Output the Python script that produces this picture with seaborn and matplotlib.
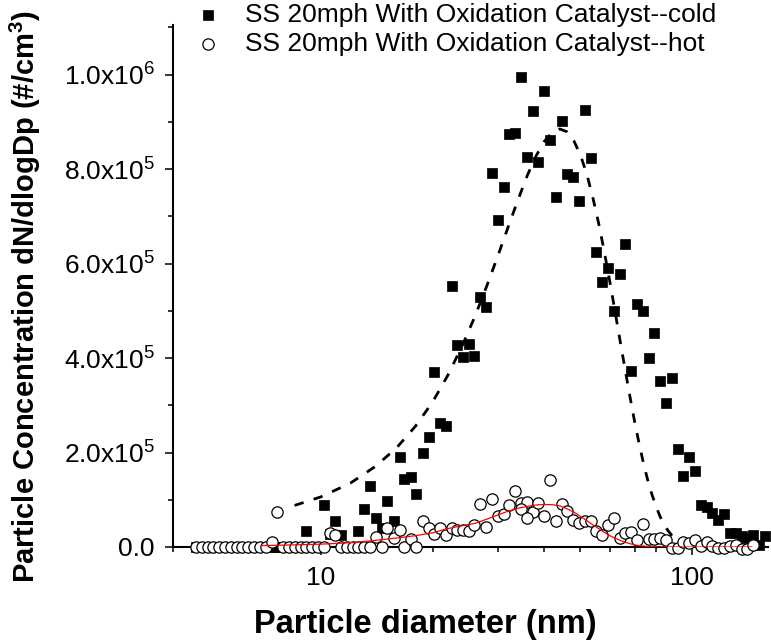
import numpy as np
import pandas as pd
import matplotlib
matplotlib.use("Agg")
import matplotlib.pyplot as plt
import seaborn as sns
from matplotlib.ticker import FixedLocator, NullFormatter, MultipleLocator

sns.set_style("ticks")
plt.rcParams["font.family"] = ["Liberation Sans", "DejaVu Sans"]
plt.rcParams["mathtext.default"] = "regular"
plt.rcParams["text.color"] = "black"
plt.rcParams["axes.labelcolor"] = "black"
plt.rcParams["xtick.color"] = "black"
plt.rcParams["ytick.color"] = "black"

# SMPS channel midpoint diameters (nm)
diameter = [4.61, 4.78, 4.96, 5.14, 5.33, 5.52, 5.73, 5.94, 6.15, 6.38,
            6.61, 6.85, 7.10, 7.37, 7.64, 7.91, 8.20, 8.51, 8.82, 9.14,
            9.47, 9.82, 10.2, 10.6, 10.9, 11.3, 11.8, 12.2, 12.6, 13.1,
            13.6, 14.1, 14.6, 15.1, 15.7, 16.3, 16.8, 17.5, 18.1, 18.8,
            19.5, 20.2, 20.9, 21.7, 22.5, 23.3, 24.1, 25.0, 25.9, 26.9,
            27.9, 28.9, 30.0, 31.1, 32.2, 33.4, 34.6, 35.9, 37.2, 38.5,
            40.0, 41.4, 42.9, 44.5, 46.1, 47.8, 49.6, 51.4, 53.3, 55.2,
            57.3, 59.4, 61.5, 63.8, 66.1, 68.5, 71.0, 73.7, 76.4, 79.1,
            82.0, 85.1, 88.2, 91.4, 94.7, 98.2, 101.8, 105.5, 109.4, 113.4,
            117.6, 121.9, 126.3, 131.0, 135.8, 140.7, 145.9, 151.2, 156.8]

# dN/dlogDp in thousands of particles per cm^3
cold_k = [0, 0, 0, 0, 0, 0, 0, 0, 0, 0,
          0, 0, 0, 0, 0, 0, 0, 0, 0, 34.5,
          0, 0, 88, 28, 56, 25, 0, 0, 34.5, 80,
          129, 62, 40, 97, 56, 190, 144, 149, 112, 200,
          232, 370, 262, 257, 553, 427, 403, 429, 405, 530,
          509, 792, 693, 762, 875, 877, 995, 826, 923, 815,
          966, 861, 740, 901, 789, 783, 733, 925, 824, 624,
          560, 590, 500, 577, 641, 373, 514, 500, 401, 453,
          352, 305, 358, 207, 151, 190, 161, 88, 85, 71,
          57, 70, 29, 29, 23, 18, 25, 4, 24]

hot_k = [0, 0, 0, 0, 0, 0, 0, 0, 0, 0,
         0, 0, 0, 10, 75, 0, 0, 0, 0, 0,
         0, 0, 0, 29, 25, 0, 0, 0, 0, 0,
         0, 22, 0, 39.5, 20, 37, 0, 17, 0, 54,
         40, 27.5, 41, 25, 39.5, 37, 36, 34.5, 47, 90,
         43, 101, 66, 69, 89, 118, 92.5, 96, 75, 94,
         66, 142, 56, 91, 77, 57, 50, 56, 55, 34,
         26, 47, 61, 20, 30, 32, 15, 48, 17.5, 17.5,
         18.5, 15, -3, -3, 10, 8, 15, 2, 11, 2,
         -3, -3, 2, 4, -4, -4, 5]

# repeated hot readings at two channels
hot_rep_d = [34.6, 35.9]
hot_rep_k = [80, 61]

# fitted size distributions
cold_fit_d = [8.5, 10, 12, 14, 16, 18, 20, 22, 24, 26, 28, 30, 32, 34, 36, 38,
              40, 42, 44, 46, 48, 50, 52, 54, 56, 58, 60, 62, 64, 66, 68, 70,
              72, 74, 76, 78, 80, 82, 84, 86, 88, 90, 92]
cold_fit_k = [88, 106, 135, 170, 210, 256, 307, 364, 425, 488, 553, 617, 679, 736, 787, 828,
              859, 878, 885, 879, 860, 830, 790, 740, 685, 625, 562, 498, 435, 375, 318, 265,
              218, 176, 140, 110, 85, 64, 48, 35, 25, 18, 12]

hot_fit_d = [6.9, 8, 10, 12, 14, 16, 18, 20, 22, 24, 26, 28, 30, 32, 34, 36, 38,
             40, 42, 44, 46, 48, 50, 52, 54, 56, 58, 60, 62, 64, 66, 68, 70,
             72, 75, 80, 90, 110, 145]
hot_fit_k = [3, 4, 6, 9, 14, 19, 24, 30, 39, 45, 50, 59, 68, 76, 82, 86, 89,
             90, 89.5, 87, 81, 74, 65, 56, 47, 39, 31, 24, 18.5, 14, 10, 7, 4.5,
             3, 1.5, 0.5, 0, 0, 0]

label_cold = "SS 20mph With Oxidation Catalyst--cold"
label_hot = "SS 20mph With Oxidation Catalyst--hot"

cold_df = pd.DataFrame({"d": diameter[:len(cold_k)], "n": np.array(cold_k) * 1e3})
hot_df = pd.DataFrame({"d": diameter[:len(hot_k)] + hot_rep_d,
                       "n": np.array(hot_k + hot_rep_k) * 1e3})
cold_fit = pd.DataFrame({"d": cold_fit_d, "n": np.array(cold_fit_k) * 1e3})
hot_fit = pd.DataFrame({"d": hot_fit_d, "n": np.array(hot_fit_k) * 1e3})

W, H = 771, 643
fig = plt.figure(figsize=(W / 100, H / 100), dpi=100)
ax = fig.add_axes([173 / W, 96 / H, 595 / W, 522 / H])

sns.scatterplot(data=cold_df, x="d", y="n", marker="s", s=42, color="black",
                edgecolor="black", linewidth=0.5, label=label_cold, legend=False,
                ax=ax, clip_on=False, zorder=3)
sns.scatterplot(data=hot_df, x="d", y="n", marker="o", s=66, facecolor="white",
                edgecolor="black", linewidth=0.9, label=label_hot, legend=False,
                ax=ax, clip_on=False, zorder=4)
sns.lineplot(data=cold_fit, x="d", y="n", color="black", linewidth=2.0,
             linestyle=(0, (3.4, 3.8)), estimator=None, sort=False, ax=ax, zorder=5)
sns.lineplot(data=hot_fit, x="d", y="n", color="red", linewidth=0.9,
             estimator=None, sort=False, ax=ax, zorder=5)

ax.set_xscale("log")
ax.set_xlim(4, 160)
ax.set_ylim(0, 1.105e6)

ax.xaxis.set_major_locator(FixedLocator([10, 100]))
ax.set_xticklabels(["10", "100"])
ax.xaxis.set_minor_locator(FixedLocator([4, 5, 6, 7, 8, 9, 20, 30, 40, 50, 60, 70, 80, 90]))
ax.xaxis.set_minor_formatter(NullFormatter())

yt = [0, 2e5, 4e5, 6e5, 8e5, 1e6]
ax.yaxis.set_major_locator(FixedLocator(yt))
ax.set_yticklabels(["0.0", "2.0x10$^{5}$", "4.0x10$^{5}$", "6.0x10$^{5}$",
                    "8.0x10$^{5}$", "1.0x10$^{6}$"])
ax.yaxis.set_minor_locator(MultipleLocator(1e5))

ax.tick_params(axis="both", which="major", direction="out", length=6, width=1.1,
               labelsize=19, colors="black", pad=7)
ax.tick_params(axis="both", which="minor", direction="out", length=3.5, width=1.1,
               colors="black")
ax.tick_params(axis="x", which="major", pad=8)

for side in ("top", "right"):
    ax.spines[side].set_visible(False)
for side in ("left", "bottom"):
    ax.spines[side].set_linewidth(1.5)
    ax.spines[side].set_color("black")

ax.set_xlabel("Particle diameter (nm)", fontsize=23.5, fontweight="bold", color="black")
ax.set_ylabel("Particle Concentration dN/dlogDp (#/cm$^{3}$)", fontsize=21,
              fontweight="bold", color="black")
ax.xaxis.set_label_coords((425 - 173) / 595, (547 - 625) / 522)
ax.xaxis.label.set_va("center")
ax.yaxis.set_label_coords((25 - 173) / 595, (547 - 297) / 522)
ax.yaxis.label.set_va("center")

handles, labels = ax.get_legend_handles_labels()
keep = [i for i, l in enumerate(labels) if l in (label_cold, label_hot)]
leg = ax.legend([handles[i] for i in keep], [labels[i] for i in keep],
                loc="upper left", bbox_to_anchor=(195 / W, 1 - 3 / H),
                bbox_transform=fig.transFigure, frameon=False, fontsize=19,
                handlelength=1.0, handletextpad=0.9, borderpad=0, borderaxespad=0,
                labelspacing=0.2, markerscale=1.0)
for t in leg.get_texts():
    t.set_color("black")

fig.savefig("out.png", dpi=100)
